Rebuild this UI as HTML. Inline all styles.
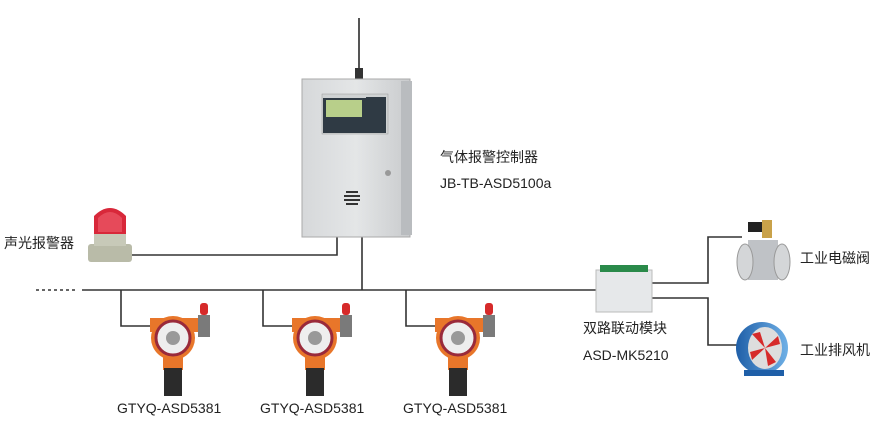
<!DOCTYPE html>
<html><head><meta charset="utf-8"><style>
html,body{margin:0;padding:0;background:#fff;}
svg{display:block;}
text{font-family:"Liberation Sans","Noto Sans CJK SC",sans-serif;fill:#222;}
</style></head><body>
<svg width="880" height="427" viewBox="0 0 880 427" xmlns="http://www.w3.org/2000/svg">
<defs>
<linearGradient id="box" x1="0" x2="1"><stop offset="0" stop-color="#d6d8da"/><stop offset="0.5" stop-color="#e4e6e7"/><stop offset="1" stop-color="#c9cbcd"/></linearGradient>
<linearGradient id="fan" x1="0" x2="1"><stop offset="0" stop-color="#1f5fa8"/><stop offset="1" stop-color="#6fb0e6"/></linearGradient>
</defs>
<g stroke="#333" stroke-width="1.6" fill="none">
<line x1="36" y1="290" x2="76" y2="290" stroke-dasharray="3,3"/>
<line x1="82" y1="290" x2="598" y2="290"/>
<line x1="362" y1="237" x2="362" y2="290"/>
<polyline points="130,255 337,255 337,237"/>
<polyline points="121,290 121,326 150,326"/>
<polyline points="263,290 263,326 292,326"/>
<polyline points="406,290 406,326 435,326"/>
<polyline points="652,283 708,283 708,237 742,237"/>
<polyline points="652,298 708,298 708,345 738,345"/>
</g>
<!-- antenna -->
<line x1="359" y1="18" x2="359" y2="76" stroke="#555" stroke-width="2"/>
<rect x="355" y="68" width="8" height="12" fill="#333"/>
<!-- controller -->
<rect x="302" y="79" width="108" height="158" fill="url(#box)" stroke="#aaa"/>
<rect x="401" y="81" width="11" height="154" fill="#b9bcbf"/>
<rect x="322" y="94" width="66" height="40" fill="#cfd2d3" stroke="#999" stroke-width=".5"/>
<rect x="323" y="98" width="43" height="23" fill="#2f3a44"/>
<rect x="326" y="100" width="36" height="17" fill="#b8cf8a"/>
<rect x="366" y="97" width="20" height="36" fill="#2f3a44"/>
<rect x="323" y="121" width="43" height="12" fill="#2f3a44"/>
<circle cx="388" cy="173" r="3" fill="#999"/>
<g fill="#333"><rect x="346" y="191" width="12" height="2"/><rect x="344" y="195" width="16" height="2"/><rect x="344" y="199" width="16" height="2"/><rect x="346" y="203" width="12" height="2"/></g>
<!-- alarm -->
<rect x="88" y="244" width="44" height="18" rx="3" fill="#b9bba8"/>
<rect x="94" y="234" width="32" height="12" fill="#c7c9b8"/>
<path d="M94 234 L94 216 Q110 200 126 216 L126 234 Z" fill="#d8283a"/>
<path d="M98 232 L98 218 Q110 206 122 218 L122 232Z" fill="#f06070" opacity=".6"/>
<text x="4" y="248" font-size="14">声光报警器</text>
<!-- sensors -->
<g id="s">
<rect x="150" y="318" width="52" height="14" fill="#e8762a"/>
<rect x="198" y="315" width="12" height="22" fill="#7a7a7a"/>
<rect x="200" y="303" width="8" height="12" rx="3" fill="#d62a2a"/>
<rect x="163" y="350" width="20" height="20" fill="#e8762a"/>
<rect x="164" y="368" width="18" height="28" fill="#2b2b2b"/>
<circle cx="173" cy="338" r="22" fill="#e8762a"/>
<circle cx="173" cy="338" r="17" fill="#eee" stroke="#9a2a3a" stroke-width="3"/>
<circle cx="173" cy="338" r="7" fill="#999"/>
</g>
<use href="#s" x="142"/>
<use href="#s" x="285"/>
<text x="117" y="413" font-size="14">GTYQ-ASD5381</text>
<text x="260" y="413" font-size="14">GTYQ-ASD5381</text>
<text x="403" y="413" font-size="14">GTYQ-ASD5381</text>
<!-- labels controller -->
<text x="440" y="162" font-size="14">气体报警控制器</text>
<text x="440" y="188" font-size="14">JB-TB-ASD5100a</text>
<!-- module -->
<rect x="596" y="270" width="56" height="42" fill="#e6e8ea" stroke="#bbb"/>
<rect x="600" y="265" width="48" height="7" fill="#2a8a4a"/>
<text x="583" y="333" font-size="14">双路联动模块</text>
<text x="583" y="360" font-size="14">ASD-MK5210</text>
<!-- valve -->
<rect x="748" y="222" width="18" height="10" fill="#222"/>
<rect x="762" y="220" width="10" height="18" fill="#c9a24a"/>
<rect x="748" y="240" width="30" height="40" fill="#bfc2c6"/>
<ellipse cx="745" cy="262" rx="8" ry="18" fill="#d4d6d8" stroke="#999"/>
<ellipse cx="782" cy="262" rx="8" ry="18" fill="#d4d6d8" stroke="#999"/>
<text x="800" y="263" font-size="14">工业电磁阀</text>
<!-- fan -->
<ellipse cx="762" cy="348" rx="26" ry="26" fill="url(#fan)"/>
<ellipse cx="765" cy="348" rx="17" ry="21" fill="#ddd"/>
<path d="M765 348 L752 334 L760 332Z M765 348 L778 336 L780 344Z M765 348 L776 362 L768 366Z M765 348 L752 360 L750 352Z" fill="#d62a2a"/>
<rect x="744" y="370" width="40" height="6" fill="#1f5fa8"/>
<text x="800" y="355" font-size="14">工业排风机</text>
</svg>
</body></html>
